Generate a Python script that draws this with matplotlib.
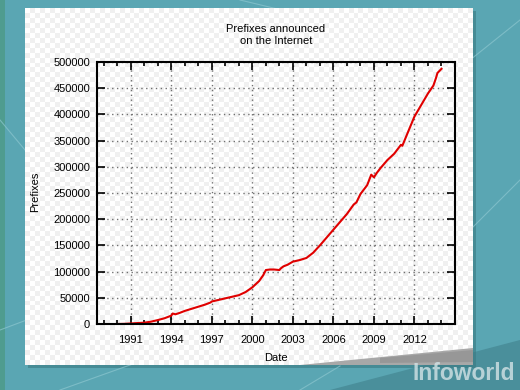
import numpy as np
import matplotlib
matplotlib.use("Agg")
import matplotlib.pyplot as plt
from matplotlib.colors import ListedColormap
from matplotlib.patches import Rectangle, Polygon
from matplotlib.ticker import MultipleLocator

# Data: year (decimal) and number of announced prefixes.
years = [1990.0, 1990.5, 1991.0, 1991.5, 1992.0, 1992.5, 1993.0, 1993.5,
         1994.0, 1994.1, 1994.3, 1994.6, 1995.0, 1995.5, 1996.0, 1996.5,
         1996.9, 1997.0, 1997.5, 1998.0, 1998.5, 1999.0, 1999.5, 2000.0,
         2000.5, 2000.8, 2001.0, 2001.3, 2001.6, 2002.0, 2002.1, 2002.3,
         2002.6, 2003.0, 2003.5, 2004.0, 2004.5, 2005.0, 2005.5, 2006.0,
         2006.5, 2007.0, 2007.5, 2007.7, 2008.0, 2008.5, 2008.8, 2009.0,
         2009.2, 2009.5, 2010.0, 2010.5, 2011.0, 2011.1, 2011.5, 2012.0,
         2012.5, 2013.0, 2013.4, 2013.6, 2013.7, 2014.0]
prefixes = [0, 300, 1000, 1800, 2500, 4500, 7500, 11000,
            16000, 20000, 18500, 21000, 25000, 29000, 33000, 37000,
            41000, 43000, 46000, 49000, 52000, 55000, 61000, 70000,
            82000, 93000, 103000, 104000, 104000, 103000, 106000, 110000,
            113000, 119000, 122000, 126000, 136000, 150000, 165000, 180000,
            195000, 210000, 228000, 232000, 248000, 265000, 285000, 280000,
            288000, 298000, 313000, 325000, 342000, 340000, 365000, 396000,
            418000, 440000, 455000, 470000, 479000, 487000]
year_ticks = [1991, 1994, 1997, 2000, 2003, 2006, 2009, 2012]

plt.rcParams['font.family'] = ['Liberation Sans', 'DejaVu Sans']

W, H = 520, 390
fig = plt.figure(figsize=(5.2, 3.9), dpi=100, facecolor="#5aa6b3")

# Background: teal with faint lines, paper sheet with checker pattern.
bg = fig.add_axes([0, 0, 1, 1], zorder=-10)
bg.set_xlim(0, W)
bg.set_ylim(H, 0)
bg.axis("off")
bg.add_patch(Polygon([(330, 390), (520, 340), (520, 390)], closed=True,
                     color="#4a8f9b", lw=0))
for (x0, y0, x1, y1) in [(0, 330, 120, 285), (60, 390, 200, 340),
                         (470, 60, 520, 20), (470, 230, 520, 180),
                         (240, 0, 290, 12), (300, 390, 340, 366),
                         (0, 120, 25, 150)]:
    bg.plot([x0, x1], [y0, y1], color="#8cc6cf", lw=0.8, alpha=0.7)
bg.add_patch(Rectangle((0, 0), 5, H, color="#4f9c8f", lw=0))
bg.add_patch(Rectangle((28, 11), 448, 357, color="#3a7a82", lw=0, alpha=0.6))
checker = (np.indices((72, 90)).sum(axis=0) % 2).astype(float)
bg.imshow(checker, cmap=ListedColormap(["#ffffff", "#f0f0f0"]),
          extent=(25, 473, 365, 8), interpolation="nearest", aspect="auto",
          zorder=2)
bg.add_patch(Polygon([(300, 365), (473, 348), (473, 365)], closed=True,
                     color="#a8a8a8", lw=0, zorder=3))
bg.add_patch(Polygon([(380, 358), (473, 350), (473, 362), (380, 363)],
                     closed=True, color="#888888", lw=0, alpha=0.5, zorder=3))
bg.text(515, 374, "Infoworld", ha="right", va="center", fontsize=16.5,
        fontweight="bold", color="#d3e3e6", alpha=0.8, zorder=4)

ax = fig.add_axes([97 / W, 1 - 324 / H, (455 - 97) / W, (324 - 62) / H])
ax.patch.set_alpha(0)
ax.plot(years, prefixes, color="#e00000", lw=1.5)

ax.set_xlim(1988.5, 2015.0)
ax.set_ylim(0, 500000)
ax.set_xticks(year_ticks)
ax.xaxis.set_minor_locator(MultipleLocator(1))
ax.yaxis.set_major_locator(MultipleLocator(50000))
ax.tick_params(which="both", direction="in", top=True, right=True,
               labelsize=8, colors="black")
ax.tick_params(which="major", length=6, width=1.2)
ax.tick_params(which="minor", length=3, width=1.2)
ax.tick_params(axis="x", pad=8)
ax.tick_params(axis="y", pad=5)
for s in ax.spines.values():
    s.set_linewidth(1.5)
ax.grid(True, which="major", color="#707070", lw=1.0, linestyle=(0, (1, 2.5)))

fig.text(276 / W, 1 - 35 / H, "Prefixes announced\non the Internet",
         ha="center", va="center", fontsize=8, linespacing=1.3)
fig.text(276 / W, 1 - 358 / H, "Date", ha="center", va="center", fontsize=8)
fig.text(35 / W, 1 - 192 / H, "Prefixes", ha="center", va="center",
         fontsize=8, rotation=90)

fig.savefig("out.png", dpi=100, facecolor=fig.get_facecolor())
